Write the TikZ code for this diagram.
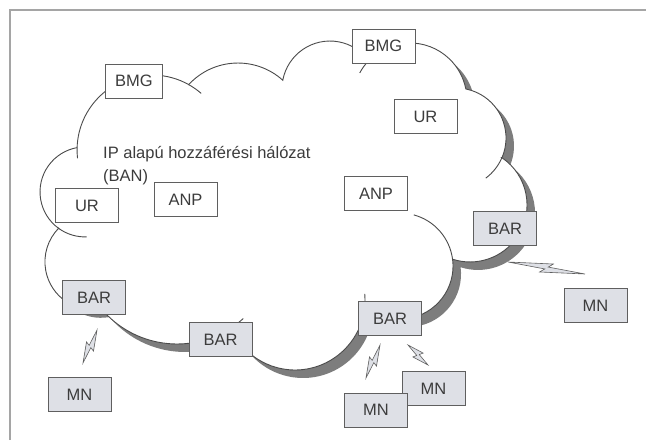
\documentclass[tikz,border=0pt]{standalone}
\usepackage{fontspec}
\setmainfont{Liberation Sans}
\usetikzlibrary{calc}
\definecolor{boxFill}{RGB}{222,224,230}
\definecolor{boxLine}{RGB}{95,95,95}
\definecolor{textGray}{RGB}{60,60,60}
\definecolor{cloudLine}{RGB}{75,75,75}
\definecolor{shadowGray}{RGB}{125,125,125}
\definecolor{frameGray}{RGB}{165,165,165}
\newcommand\boxFont{\fontsize{16.5}{23}\selectfont}
%% outline of the cloud: one arc per bump, clockwise from the left
\newcommand\cloudPath{(77.1,-147.8) arc[start angle=178.3,end angle=60.7,radius=75]
  -- (188.8,-84.5) arc[start angle=137.2,end angle=48.0,radius=67]
  -- (282.8,-80.2) arc[start angle=169.4,end angle=36.3,radius=48]
  -- (368.7,-60.6) arc[start angle=136.3,end angle=11.1,radius=57]
  -- (465.9,-89.0) arc[start angle=78.6,end angle=-23.2,radius=50]
  -- (501.9,-157.7) arc[start angle=56.0,end angle=-107.8,radius=57]
  -- (452.6,-259.3) arc[start angle=7.3,end angle=-131.6,radius=53]
  -- (364.8,-305.6) arc[start angle=-4.6,end angle=-156.4,radius=70]
  -- (230.8,-328.1) arc[start angle=-57.1,end angle=-139.7,radius=99]
  -- (101.6,-309.0) arc[start angle=280.4,end angle=135.6,radius=48]
  -- (58.7,-228.4) arc[start angle=234.2,end angle=100.1,radius=45]
  -- cycle}
%% lightning bolt between two named coordinates
\newcommand\boltPath[2]{%
  \draw[boltDecorate] (#1) -- ($(#1)!0.58!(#2)!5pt!90:(#2)$)
    -- ($(#1)!0.52!(#2)!1.2pt!90:(#2)$) -- (#2)
    -- ($(#1)!0.42!(#2)!5pt!-90:(#2)$)
    -- ($(#1)!0.48!(#2)!1.2pt!-90:(#2)$) -- cycle;}
\begin{document}
\begin{tikzpicture}
[x=1pt,y=1pt,
  boxDecorate/.style={shape=rectangle,draw=boxLine,line width=1pt,minimum width=63pt,minimum height=34pt,inner sep=0pt,text=textGray,font=\boxFont},%
  whiteBox/.style={boxDecorate,fill=white},%
  greyBox/.style={boxDecorate,fill=boxFill},%
  cloudDecorate/.style={draw=cloudLine,line width=0.9pt},%
  boltDecorate/.style={fill=boxFill,draw=boxLine,line width=0.6pt}]
\useasboundingbox (0,0) rectangle (646,-440);
%% frame
\draw[frameGray,line width=1.2pt] (10,-440) -- (10,-10) -- (646,-10);
%% cloud and its shadow
\fill[shadowGray,shift={(8,-8)}] \cloudPath;
\fill[white] \cloudPath;
\draw[cloudDecorate] \cloudPath;
%% loose ends of the bumps
\draw[cloudDecorate] (188.7,-84.6) arc[start angle=60.7,end angle=49,radius=75];
\draw[cloudDecorate] (77.1,-147.8) arc[start angle=178.3,end angle=186.3,radius=75];
\draw[cloudDecorate] (58.7,-228.4) arc[start angle=234.2,end angle=272,radius=45];
\draw[cloudDecorate] (368.7,-60.6) arc[start angle=136.3,end angle=151.7,radius=57];
\draw[cloudDecorate] (501.9,-157.7) arc[start angle=-23.2,end angle=-53.4,radius=50];
\draw[cloudDecorate] (413.8,-214.9) arc[start angle=74.9,end angle=7.3,radius=53];
\draw[cloudDecorate] (364.8,-305.6) arc[start angle=-4.6,end angle=5,radius=70];
\draw[cloudDecorate] (230.8,-328.1) arc[start angle=-57.1,end angle=-48,radius=99];
%% label of the network
\node (banLabel) at (103,-146) [anchor=north west,align=left,inner sep=0pt,text=textGray,font=\boxFont] {IP alapú hozzáférési hálózat\\(BAN)};
%% nodes inside the cloud
\node (bmgTop) at (383.5,-46) [whiteBox] {BMG};
\node (bmgLeft) at (134,-81) [whiteBox,minimum width=57pt] {BMG};
\node (urRight) at (425.5,-116.5) [whiteBox] {UR};
\node (urLeft) at (87,-205.5) [whiteBox] {UR};
\node (anpLeft) at (185.5,-199.5) [whiteBox] {ANP};
\node (anpRight) at (376,-193.5) [whiteBox] {ANP};
%% access routers on the edge
\node (barRight) at (505,-228.5) [greyBox] {BAR};
\node (barLeft) at (94,-297.5) [greyBox] {BAR};
\node (barMid) at (220.5,-339.5) [greyBox] {BAR};
\node (barMidR) at (390,-318.5) [greyBox] {BAR};
%% mobile nodes
\node (mnRight) at (595.5,-305.5) [greyBox] {MN};
\node (mnLeft) at (79.5,-394.5) [greyBox] {MN};
\node (mnBack) at (433.5,-388.5) [greyBox] {MN};
\node (mnFront) at (376,-410) [greyBox] {MN};
%% radio links
\coordinate (boltLeftA) at (97,-330);
\coordinate (boltLeftB) at (83,-363);
\coordinate (boltMidA) at (380,-345);
\coordinate (boltMidB) at (366,-378);
\coordinate (boltBackA) at (408,-345);
\coordinate (boltBackB) at (428,-365);
\coordinate (boltRightA) at (508,-262);
\coordinate (boltRightB) at (585,-274);
\boltPath{boltLeftA}{boltLeftB}
\boltPath{boltMidA}{boltMidB}
\boltPath{boltBackA}{boltBackB}
\boltPath{boltRightA}{boltRightB}
\end{tikzpicture}
\end{document}
